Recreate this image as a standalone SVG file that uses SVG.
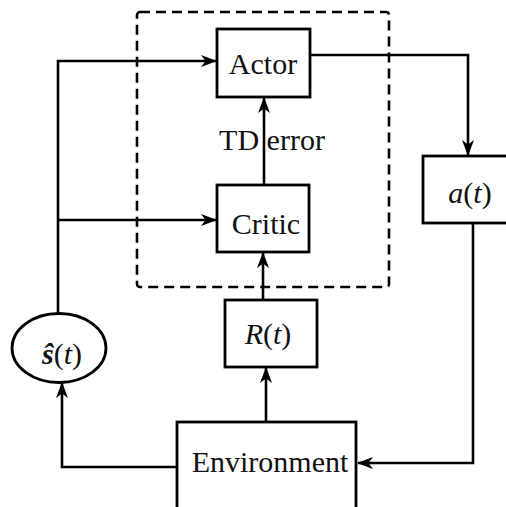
<svg xmlns="http://www.w3.org/2000/svg" width="506" height="507" viewBox="0 0 506 507">
<style>
.box{fill:#fff;stroke:#000;stroke-width:2.8}
.lbl{font-family:"Liberation Serif","DejaVu Serif",serif;font-size:30px;fill:#111;text-anchor:middle}
.it{font-style:italic}
.edge{fill:none;stroke:#000;stroke-width:2.6}
</style>
<defs>
<marker id="arr" viewBox="0 0 16 12" refX="15" refY="6" markerWidth="16" markerHeight="12" markerUnits="userSpaceOnUse" orient="auto">
<path d="M0,0 L16,6 L0,12 L4.5,6 Z" fill="#000"/>
</marker>
</defs>
<rect x="137" y="12" width="252" height="275" rx="3" fill="none" stroke="#000" stroke-width="2.6" stroke-dasharray="10,6"/>
<g id="connectors">
<path class="edge" d="M58,313 V61 H216" marker-end="url(#arr)"/>
<path class="edge" d="M58,220 H216" marker-end="url(#arr)"/>
<path class="edge" d="M310,55 H468 V155" marker-end="url(#arr)"/>
<path class="edge" d="M473,223 V463 H358" marker-end="url(#arr)"/>
<path class="edge" d="M266,422 V368" marker-end="url(#arr)"/>
<path class="edge" d="M263,300 V253" marker-end="url(#arr)"/>
<path class="edge" d="M264,185 V98" marker-end="url(#arr)"/>
<path class="edge" d="M177,467 H62 V383" marker-end="url(#arr)"/>
<text class="lbl" x="272" y="150">TD error</text>
</g>
<g id="actor">
<rect class="box" x="217" y="29" width="93" height="68"/>
<text class="lbl" x="263" y="74">Actor</text>
</g>
<g id="critic">
<rect class="box" x="217" y="185" width="92" height="67"/>
<text class="lbl" x="266" y="234">Critic</text>
</g>
<g id="a_t">
<rect class="box" x="423" y="156" width="100" height="67"/>
<text class="lbl" x="470" y="203"><tspan class="it">a</tspan>(<tspan class="it">t</tspan>)</text>
</g>
<g id="r_t">
<rect class="box" x="225" y="300" width="92" height="67"/>
<text class="lbl" x="268" y="344"><tspan class="it">R</tspan>(<tspan class="it">t</tspan>)</text>
</g>
<g id="s_hat">
<ellipse class="box" cx="59" cy="348" rx="47" ry="34.5"/>
<text class="lbl" x="62" y="364"><tspan class="it" font-weight="bold">ŝ</tspan>(<tspan class="it">t</tspan>)</text>
</g>
<g id="environment">
<rect class="box" x="177" y="422" width="179" height="110"/>
<text class="lbl" x="270" y="472">Environment</text>
</g>
</svg>
